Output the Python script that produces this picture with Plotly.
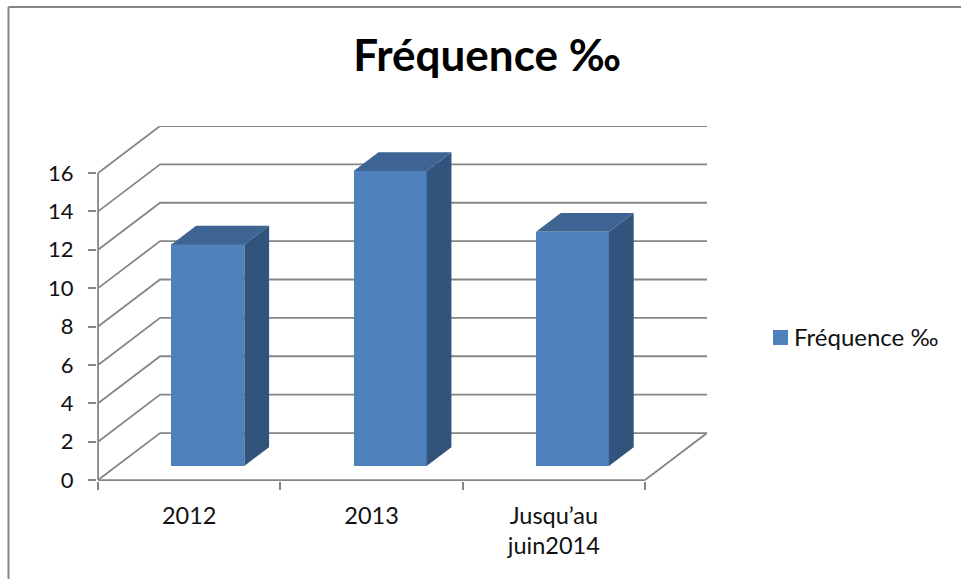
import plotly.graph_objects as go

# Chart data
categories = ["2012", "2013", "Jusqu’au<br>juin2014"]
frequence = [11.54, 15.37, 12.2]
y_ticks = [0, 2, 4, 6, 8, 10, 12, 14, 16]
series_name = "Fréquence ‰"

# Oblique projection of the 3-D box: how far the back wall is shifted
# from the front plane, in axis units.
DEPTH_X = 0.34
DEPTH_Y = 2.45
BAR_WIDTH = 0.4
BAR_FRONT = 0.3   # front face of the bars, as a share of the floor depth
BAR_BACK = 0.7    # back face of the bars

FRONT_COLOR = "#4F81BD"
SIDE_COLOR = "#32547C"
TOP_COLOR = "#3E6493"
LINE_COLOR = "#868686"
TEXT_COLOR = "#111111"
FONT = "Lato"
W, H = 961, 579

n = len(categories)
y_top = max(y_ticks) + DEPTH_Y
x_range = [-0.006, n + DEPTH_X]
y_range = [-0.05, y_top]

fig = go.Figure()

# Front faces
fx = BAR_FRONT * DEPTH_X
fy = BAR_FRONT * DEPTH_Y
bx = BAR_BACK * DEPTH_X
by = BAR_BACK * DEPTH_Y
fig.add_trace(go.Bar(
    x=[i + 0.5 + fx for i in range(n)],
    y=frequence,
    base=[fy] * n,
    width=BAR_WIDTH,
    marker=dict(color=FRONT_COLOR, line=dict(width=0)),
    showlegend=False,
    name=series_name,
))

# Side and top faces
for i, v in enumerate(frequence):
    left = i + 0.5 - BAR_WIDTH / 2
    right = i + 0.5 + BAR_WIDTH / 2
    fig.add_trace(go.Scatter(
        x=[right + fx, right + bx, right + bx, right + fx, right + fx],
        y=[fy, by, by + v, fy + v, fy],
        mode="lines", fill="toself", fillcolor=SIDE_COLOR,
        line=dict(width=0), showlegend=False, hoverinfo="skip",
    ))
    fig.add_trace(go.Scatter(
        x=[left + fx, left + bx, right + bx, right + fx, left + fx],
        y=[fy + v, by + v, by + v, fy + v, fy + v],
        mode="lines", fill="toself", fillcolor=TOP_COLOR,
        line=dict(width=0), showlegend=False, hoverinfo="skip",
    ))

# Legend entry; its swatch sits tight against the text, so it is drawn as a
# paper-space square below rather than in the legend's wider marker slot.
fig.add_trace(go.Scatter(
    x=[None], y=[None], mode="markers", name=series_name,
    marker=dict(symbol="square", size=15, color="rgba(0,0,0,0)"),
))

shapes = []
line = dict(color=LINE_COLOR, width=1.8)

# Wall gridlines with their slanted run across the side wall
for t in y_ticks:
    shapes.append(dict(
        type="path", layer="below", xref="x", yref="y", line=line,
        path=f"M 0 {t} L {DEPTH_X} {t + DEPTH_Y} L {n + DEPTH_X} {t + DEPTH_Y}",
    ))

# Value axis, category axis and the right edge of the floor
shapes.append(dict(type="line", layer="below", xref="x", yref="y", line=line,
                   x0=0, x1=0, y0=0, y1=max(y_ticks)))
shapes.append(dict(type="line", layer="below", xref="x", yref="y", line=line,
                   x0=0, x1=n, y0=0, y1=0))
shapes.append(dict(type="line", layer="below", xref="x", yref="y", line=line,
                   x0=n, x1=n + DEPTH_X, y0=0, y1=DEPTH_Y))

# Chart-area frame
frame = dict(color=LINE_COLOR, width=2)
shapes.append(dict(type="line", xref="paper", yref="paper", line=frame,
                   x0=8.5 / W, x1=1, y0=1 - 7 / H, y1=1 - 7 / H))
shapes.append(dict(type="line", xref="paper", yref="paper", line=frame,
                   x0=8.5 / W, x1=8.5 / W, y0=0, y1=1 - 7 / H))

# Legend swatch
shapes.append(dict(type="rect", xref="paper", yref="paper",
                   x0=773 / W, x1=788 / W, y0=1 - 345 / H, y1=1 - 330 / H,
                   fillcolor=FRONT_COLOR, line=dict(width=0)))

fig.update_layout(
    width=W, height=H,
    margin=dict(l=0, r=0, t=0, b=0),
    paper_bgcolor="white", plot_bgcolor="white",
    font=dict(family=FONT, size=24, color=TEXT_COLOR),
    bargap=0,
    shapes=shapes,
    title=dict(
        text=f"<b>{series_name}</b>",
        font=dict(family=FONT, size=44, color="black"),
        x=487 / W, xanchor="center", xref="paper",
        y=1 - 56 / H, yanchor="middle", yref="paper",
        automargin=False,
    ),
    legend=dict(
        x=760.5 / W, xanchor="left", y=1 - 337.5 / H, yanchor="middle",
        bgcolor="rgba(0,0,0,0)", borderwidth=0, indentation=-6.5,
        font=dict(family=FONT, size=24, color=TEXT_COLOR),
    ),
    xaxis=dict(
        domain=[97 / W, 707 / W], range=x_range, anchor="y", automargin=False,
        showgrid=False, zeroline=False, showline=False,
        tickmode="array",
        tickvals=[i + 0.5 for i in range(n)], ticktext=categories,
        ticks="", ticklabelstandoff=18,
        tickfont=dict(family=FONT, size=23.5, color=TEXT_COLOR),
        minor=dict(tickmode="array", tickvals=list(range(n + 1)),
                   ticks="outside", ticklen=8, tickwidth=1.8,
                   tickcolor=LINE_COLOR, showgrid=False),
    ),
    yaxis=dict(
        domain=[1 - 481 / H, 1 - 126 / H], range=y_range, anchor="x", automargin=False,
        showgrid=False, zeroline=False, showline=False,
        tickmode="array", tickvals=y_ticks,
        ticks="outside", ticklen=8, tickwidth=1.8, tickcolor=LINE_COLOR,
        ticklabelstandoff=10,
        tickfont=dict(family=FONT, size=22, color=TEXT_COLOR),
    ),
)

fig.write_html("out.html")
